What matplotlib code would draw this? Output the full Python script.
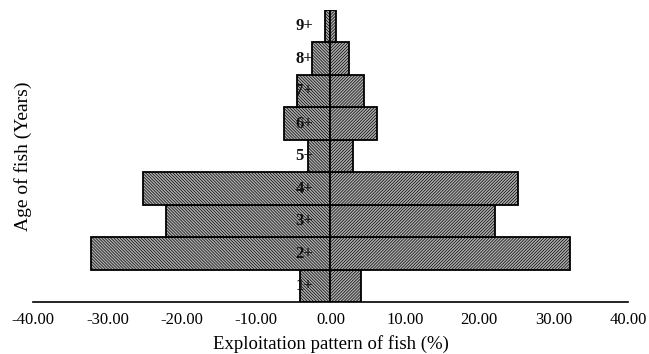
import matplotlib
matplotlib.use("Agg")
import matplotlib.pyplot as plt

ages = ["1+", "2+", "3+", "4+", "5+", "6+", "7+", "8+", "9+"]
exploitation = [4.05, 32.15, 22.15, 25.2, 3.05, 6.2, 4.45, 2.55, 0.75]
xticks = [-40, -30, -20, -10, 0, 10, 20, 30, 40]

plt.rcParams['hatch.linewidth'] = 0.5
serif = ['Liberation Serif', 'DejaVu Serif']

fig = plt.figure(figsize=(6.49, 3.54), dpi=100)
ax = fig.add_axes([0.0508, 0.146, 0.9168, 0.8258])

pos = list(range(1, len(ages) + 1))
neg = [-v for v in exploitation]
ax.barh(pos, neg, height=1.0, facecolor='#b0b0b0', edgecolor='black',
        hatch='\\' * 11, linewidth=1.3, zorder=2)
ax.barh(pos, exploitation, height=1.0, facecolor='#b0b0b0', edgecolor='black',
        hatch='/' * 11, linewidth=1.3, zorder=2)

for p, lab in zip(pos, ages):
    ax.annotate(lab, xy=(0, p), xytext=(-12.5, 0), textcoords='offset points',
                ha='right', va='center', fontsize=12, fontweight='bold',
                family=serif, color='#111111', zorder=3)

ax.set_xlim(-40, 40)
ax.set_ylim(0.5, 9.5)
ax.set_xticks(xticks)
ax.set_xticklabels([f"{t:.2f}" for t in xticks], family=serif, fontsize=12)
ax.set_yticks([])
ax.tick_params(axis='x', length=0, pad=7)
for s in ['top', 'right', 'left']:
    ax.spines[s].set_visible(False)
ax.spines['bottom'].set_linewidth(1.2)

ax.set_xlabel("Exploitation pattern of fish (%)", family=serif, fontsize=13.5, labelpad=5)
ax.set_ylabel("Age of fish (Years)", family=serif, fontsize=14, labelpad=1)

fig.savefig("out.png", dpi=100)
